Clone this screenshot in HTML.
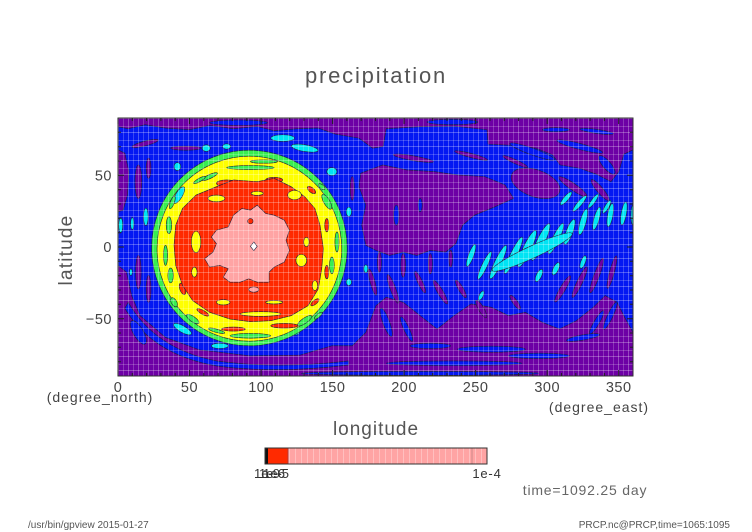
<!DOCTYPE html>
<html><head><meta charset="utf-8"><style>
html,body{margin:0;padding:0;background:#fff;}
svg{display:block}
.pl *{vector-effect:non-scaling-stroke}
text{font-family:"Liberation Sans",sans-serif}
</style></head><body>
<svg width="752" height="532" viewBox="0 0 752 532" xmlns="http://www.w3.org/2000/svg">
<defs>
<pattern id="grid" patternUnits="userSpaceOnUse" x="118" y="118" width="10" height="14">
<rect x="0" y="0" width="1" height="14" fill="#fff" fill-opacity="0.28"/>
<rect x="5" y="0" width="1" height="14" fill="#fff" fill-opacity="0.2"/>
<rect x="0" y="0" width="10" height="1" fill="#fff" fill-opacity="0.28"/>
<rect x="0" y="8" width="10" height="1" fill="#fff" fill-opacity="0.2"/>
</pattern>
<pattern id="cbg" patternUnits="userSpaceOnUse" x="265" y="448" width="6" height="16">
<rect x="0" y="0" width="1" height="16" fill="#fff" fill-opacity="0.3"/>
</pattern>
</defs>
<rect width="752" height="532" fill="#fff"/>

<text x="376" y="83" text-anchor="middle" font-size="22" letter-spacing="1.8" fill="#555">precipitation</text>

<svg class="pl" x="118" y="118" width="515" height="258" viewBox="10 10 1517 770" preserveAspectRatio="none">
<g stroke="#20203a" stroke-width="0.6">
<rect x="10" y="10" width="1517" height="770" fill="#0418f2" stroke="none"/>
<g fill="#6d00a5">
<path d="M10,10 H1527 V105 L1500,118 L1485,170 L1462,200 L1420,178 L1370,160 L1312,150 L1290,120 L1240,100 L1180,92 L1100,88 L1097,45 L1000,34 L900,36 L800,42 L791,95 L760,100 L720,70 L650,58 L600,40 L540,42 L470,48 L420,35 L350,42 L280,32 L220,45 L150,40 L90,30 L40,42 L10,36 Z"/>
<ellipse cx="90" cy="86" rx="40" ry="7" transform="rotate(-15 90 86)"/>
<ellipse cx="210" cy="100" rx="45" ry="6"/>
<ellipse cx="880" cy="130" rx="60" ry="7" transform="rotate(10 880 130)"/>
<ellipse cx="1050" cy="122" rx="50" ry="6" transform="rotate(15 1050 122)"/>
<ellipse cx="1180" cy="140" rx="40" ry="6" transform="rotate(25 1180 140)"/>
<ellipse cx="1240" cy="205" rx="75" ry="40" transform="rotate(20 1240 205)"/>
<path d="M725,175 L790,150 L860,165 L940,170 L1010,180 L1090,185 L1150,210 L1175,250 L1120,275 L1060,300 L1025,330 L1005,385 L975,410 L930,405 L890,420 L850,410 L810,420 L770,405 L740,390 L728,330 L740,270 L720,215 Z"/>
<path d="M10,105 L30,115 L42,170 L38,240 L25,285 L10,290 Z"/>
<path d="M10,450 L35,470 L50,540 L75,600 L150,665 L250,702 L400,720 L545,718 L640,690 L700,690 L740,650 L770,570 L800,545 L850,560 L900,600 L950,640 L1000,600 L1050,565 L1110,575 L1160,600 L1210,590 L1260,620 L1310,640 L1360,615 L1410,575 L1445,540 L1480,560 L1505,610 L1527,650 V780 H10 Z"/>
<ellipse cx="780" cy="440" rx="6" ry="30"/>
<ellipse cx="850" cy="450" rx="7" ry="35"/>
<ellipse cx="930" cy="445" rx="6" ry="30"/>
<ellipse cx="990" cy="430" rx="5" ry="25"/>
<ellipse cx="760" cy="500" rx="7" ry="40" transform="rotate(-15 760 500)"/>
<ellipse cx="820" cy="520" rx="8" ry="45" transform="rotate(-20 820 520)"/>
<ellipse cx="900" cy="500" rx="7" ry="35" transform="rotate(-25 900 500)"/>
<ellipse cx="960" cy="530" rx="8" ry="40" transform="rotate(-30 960 530)"/>
<ellipse cx="1020" cy="520" rx="7" ry="30" transform="rotate(-30 1020 520)"/>
<ellipse cx="1080" cy="580" rx="8" ry="30" transform="rotate(-30 1080 580)"/>
<ellipse cx="1180" cy="560" rx="7" ry="25" transform="rotate(-35 1180 560)"/>
<ellipse cx="1320" cy="520" rx="8" ry="45" transform="rotate(30 1320 520)"/>
<ellipse cx="1370" cy="500" rx="8" ry="50" transform="rotate(25 1370 500)"/>
<ellipse cx="1420" cy="480" rx="8" ry="55" transform="rotate(20 1420 480)"/>
<ellipse cx="1465" cy="470" rx="7" ry="50" transform="rotate(15 1465 470)"/>
<ellipse cx="1350" cy="215" rx="50" ry="10" transform="rotate(35 1350 215)"/>
<ellipse cx="1430" cy="225" rx="40" ry="9" transform="rotate(50 1430 225)"/>
<ellipse cx="70" cy="200" rx="10" ry="50"/>
<ellipse cx="100" cy="160" rx="7" ry="30"/>
<ellipse cx="70" cy="470" rx="8" ry="50"/>
<ellipse cx="100" cy="520" rx="7" ry="40"/>
<ellipse cx="700" cy="220" rx="6" ry="35"/>
</g>
<g fill="#0418f2">
<ellipse cx="995" cy="22" rx="75" ry="8"/>
<ellipse cx="365" cy="24" rx="85" ry="8"/>
<ellipse cx="1230" cy="110" rx="70" ry="10" transform="rotate(20 1230 110)"/>
<ellipse cx="1370" cy="95" rx="70" ry="9" transform="rotate(15 1370 95)"/>
<ellipse cx="1450" cy="150" rx="35" ry="12" transform="rotate(50 1450 150)"/>
<ellipse cx="1300" cy="45" rx="40" ry="6"/>
<ellipse cx="1420" cy="50" rx="50" ry="6" transform="rotate(8 1420 50)"/>
<ellipse cx="830" cy="300" rx="8" ry="30"/>
<ellipse cx="900" cy="270" rx="6" ry="20"/>
<path d="M40,560 Q120,700 300,735 Q480,760 690,735 L690,747 Q480,774 300,750 Q110,716 30,578 Z"/>
<ellipse cx="800" cy="620" rx="10" ry="45" transform="rotate(-20 800 620)"/>
<ellipse cx="860" cy="640" rx="8" ry="40" transform="rotate(-25 860 640)"/>
<ellipse cx="1110" cy="700" rx="100" ry="9"/>
<ellipse cx="930" cy="690" rx="60" ry="8"/>
<ellipse cx="1250" cy="720" rx="90" ry="8"/>
<ellipse cx="1000" cy="742" rx="200" ry="7"/>
<ellipse cx="1420" cy="620" rx="8" ry="40" transform="rotate(30 1420 620)"/>
<ellipse cx="1460" cy="600" rx="8" ry="45" transform="rotate(25 1460 600)"/>
<ellipse cx="1380" cy="665" rx="50" ry="8" transform="rotate(-10 1380 665)"/>
<ellipse cx="900" cy="772" rx="350" ry="6"/>
<ellipse cx="70" cy="650" rx="15" ry="40" transform="rotate(-30 70 650)"/>
</g>
<g fill="#00e4f4">
<ellipse cx="1050" cy="420" rx="8" ry="35" transform="rotate(20 1050 420)"/>
<ellipse cx="1090" cy="450" rx="8" ry="45" transform="rotate(25 1090 450)"/>
<ellipse cx="1130" cy="440" rx="10" ry="55" transform="rotate(25 1130 440)"/>
<ellipse cx="1175" cy="420" rx="10" ry="60" transform="rotate(25 1175 420)"/>
<ellipse cx="1215" cy="400" rx="12" ry="60" transform="rotate(25 1215 400)"/>
<ellipse cx="1255" cy="380" rx="12" ry="60" transform="rotate(25 1255 380)"/>
<ellipse cx="1300" cy="370" rx="10" ry="50" transform="rotate(25 1300 370)"/>
<ellipse cx="1340" cy="350" rx="10" ry="40" transform="rotate(20 1340 350)"/>
<ellipse cx="1380" cy="320" rx="9" ry="40" transform="rotate(15 1380 320)"/>
<ellipse cx="1420" cy="310" rx="8" ry="35" transform="rotate(15 1420 310)"/>
<ellipse cx="1460" cy="300" rx="8" ry="35" transform="rotate(10 1460 300)"/>
<ellipse cx="1500" cy="295" rx="8" ry="35" transform="rotate(10 1500 295)"/>
<ellipse cx="1527" cy="300" rx="6" ry="30"/>
<ellipse cx="1330" cy="250" rx="7" ry="25" transform="rotate(40 1330 250)"/>
<ellipse cx="1370" cy="265" rx="7" ry="30" transform="rotate(40 1370 265)"/>
<ellipse cx="1410" cy="258" rx="6" ry="25" transform="rotate(35 1410 258)"/>
<ellipse cx="1450" cy="275" rx="6" ry="22" transform="rotate(30 1450 275)"/>
<ellipse cx="1080" cy="540" rx="6" ry="15" transform="rotate(25 1080 540)"/>
<ellipse cx="1250" cy="480" rx="8" ry="20" transform="rotate(25 1250 480)"/>
<ellipse cx="1300" cy="460" rx="8" ry="20" transform="rotate(25 1300 460)"/>
<ellipse cx="1380" cy="440" rx="7" ry="20" transform="rotate(20 1380 440)"/>
<ellipse cx="1230" cy="410" rx="130" ry="18" transform="rotate(-25 1230 410)"/>
<ellipse cx="18" cy="330" rx="6" ry="22"/>
<ellipse cx="52" cy="325" rx="5" ry="18"/>
<ellipse cx="92" cy="305" rx="7" ry="26"/>
<ellipse cx="48" cy="470" rx="4" ry="10"/>
<ellipse cx="185" cy="155" rx="10" ry="12"/>
<ellipse cx="270" cy="100" rx="12" ry="10"/>
<ellipse cx="330" cy="95" rx="12" ry="8"/>
<ellipse cx="495" cy="70" rx="35" ry="10"/>
<ellipse cx="560" cy="100" rx="40" ry="10" transform="rotate(10 560 100)"/>
<ellipse cx="640" cy="170" rx="15" ry="12"/>
<ellipse cx="690" cy="290" rx="8" ry="14"/>
<ellipse cx="690" cy="500" rx="8" ry="10"/>
<ellipse cx="200" cy="640" rx="30" ry="10" transform="rotate(30 200 640)"/>
<ellipse cx="310" cy="690" rx="25" ry="8"/>
<ellipse cx="530" cy="650" rx="15" ry="8"/>
<ellipse cx="150" cy="520" rx="8" ry="20"/>
<ellipse cx="740" cy="460" rx="6" ry="12"/>
</g>
<ellipse cx="397" cy="398" rx="288" ry="292" fill="#38ee50"/>
<ellipse cx="397" cy="400" rx="272" ry="276" fill="#ffff00"/>
<g fill="#38ee50">
<ellipse cx="190" cy="240" rx="10" ry="28" transform="rotate(30 190 240)" fill="#00e4f4"/>
<ellipse cx="160" cy="330" rx="8" ry="25"/>
<ellipse cx="165" cy="480" rx="8" ry="22"/>
<ellipse cx="230" cy="610" rx="22" ry="8" transform="rotate(35 230 610)"/>
<ellipse cx="400" cy="660" rx="60" ry="7"/>
<ellipse cx="560" cy="615" rx="25" ry="8" transform="rotate(-35 560 615)"/>
<ellipse cx="640" cy="450" rx="7" ry="25"/>
<ellipse cx="625" cy="260" rx="9" ry="25" transform="rotate(-30 625 260)"/>
<ellipse cx="400" cy="158" rx="70" ry="6"/>
<ellipse cx="280" cy="185" rx="25" ry="6" transform="rotate(-25 280 185)"/>
<ellipse cx="250" cy="195" rx="20" ry="5" transform="rotate(-30 250 195)"/>
<ellipse cx="170" cy="262" rx="6" ry="20" transform="rotate(20 170 262)"/>
<ellipse cx="150" cy="420" rx="6" ry="30"/>
<ellipse cx="175" cy="560" rx="8" ry="15" transform="rotate(-30 175 560)"/>
<ellipse cx="300" cy="645" rx="25" ry="5" transform="rotate(15 300 645)"/>
<ellipse cx="600" cy="600" rx="15" ry="5" transform="rotate(-40 600 600)"/>
<ellipse cx="655" cy="380" rx="6" ry="30"/>
<ellipse cx="610" cy="215" rx="12" ry="6" transform="rotate(40 610 215)"/>
<ellipse cx="440" cy="140" rx="40" ry="5"/>
</g>
<g fill="#ff2a00">
<ellipse cx="330" cy="205" rx="30" ry="10"/>
<ellipse cx="470" cy="195" rx="25" ry="8"/>
<ellipse cx="205" cy="300" rx="8" ry="25" transform="rotate(20 205 300)"/>
<ellipse cx="190" cy="420" rx="7" ry="20"/>
<ellipse cx="200" cy="520" rx="8" ry="18" transform="rotate(-20 200 520)"/>
<ellipse cx="260" cy="590" rx="20" ry="6" transform="rotate(30 260 590)"/>
<ellipse cx="350" cy="640" rx="35" ry="6"/>
<ellipse cx="500" cy="630" rx="40" ry="7"/>
<ellipse cx="590" cy="560" rx="15" ry="6" transform="rotate(-40 590 560)"/>
<ellipse cx="625" cy="470" rx="6" ry="20"/>
<ellipse cx="625" cy="330" rx="6" ry="20"/>
<ellipse cx="580" cy="225" rx="15" ry="7" transform="rotate(40 580 225)"/>
</g>
<path fill="#ff2a00" d="M300,215 L350,195 L420,200 L470,190 L520,215 L560,245 L590,280 L605,330 L615,400 L610,460 L600,520 L570,570 L520,600 L460,615 L400,618 L340,610 L280,590 L230,555 L200,510 L180,450 L175,390 L180,330 L200,280 L240,240 Z"/>
<g fill="#ffff00">
<ellipse cx="240" cy="380" rx="14" ry="32"/>
<ellipse cx="235" cy="470" rx="8" ry="15"/>
<ellipse cx="550" cy="435" rx="16" ry="18"/>
<ellipse cx="565" cy="380" rx="8" ry="14"/>
<ellipse cx="530" cy="240" rx="20" ry="14"/>
<ellipse cx="420" cy="235" rx="18" ry="6"/>
<ellipse cx="430" cy="595" rx="60" ry="7"/>
<ellipse cx="470" cy="560" rx="25" ry="5"/>
<ellipse cx="320" cy="560" rx="20" ry="8"/>
<ellipse cx="300" cy="250" rx="25" ry="10"/>
<ellipse cx="590" cy="510" rx="8" ry="15"/>
</g>
<path fill="#ffa4a4" d="M300,345 L335,335 L350,300 L375,280 L400,285 L420,270 L445,295 L470,300 L500,315 L515,345 L505,375 L515,405 L500,440 L470,455 L455,470 L455,500 L420,500 L395,490 L370,500 L340,500 L320,485 L335,460 L310,450 L280,455 L265,430 L290,410 L300,385 L285,365 Z"/>
<ellipse cx="410" cy="522" rx="15" ry="8" fill="#ffa4a4"/>
<ellipse cx="400" cy="318" rx="8" ry="8" fill="#ff2a00"/>
<path d="M410,380 L420,393 L410,406 L400,393 Z" fill="#fff"/>
</g>
</svg>

<rect x="118" y="118" width="515" height="258" fill="url(#grid)"/>
<rect x="118" y="118" width="515" height="258" fill="none" stroke="#333" stroke-width="1"/>

<g stroke="#222" stroke-width="1">
<path d="M118,376v-6M189.5,376v-6M261.1,376v-6M332.6,376v-6M404.1,376v-6M475.6,376v-6M547.2,376v-6M618.7,376v-6M118,118v6M189.5,118v6M261.1,118v6M332.6,118v6M404.1,118v6M475.6,118v6M547.2,118v6M618.7,118v6"/>
<path d="M132.3,376v-3M146.6,376v-3M160.9,376v-3M175.2,376v-3M203.8,376v-3M218.1,376v-3M232.4,376v-3M246.8,376v-3M275.4,376v-3M289.7,376v-3M304,376v-3M318.3,376v-3M346.9,376v-3M361.2,376v-3M375.5,376v-3M389.8,376v-3M418.4,376v-3M432.7,376v-3M447,376v-3M461.3,376v-3M490,376v-3M504.3,376v-3M518.6,376v-3M532.9,376v-3M561.5,376v-3M575.8,376v-3M590.1,376v-3M604.4,376v-3"/>
<path d="M132.3,118v3M146.6,118v3M160.9,118v3M175.2,118v3M203.8,118v3M218.1,118v3M232.4,118v3M246.8,118v3M275.4,118v3M289.7,118v3M304,118v3M318.3,118v3M346.9,118v3M361.2,118v3M375.5,118v3M389.8,118v3M418.4,118v3M432.7,118v3M447,118v3M461.3,118v3M490,118v3M504.3,118v3M518.6,118v3M532.9,118v3M561.5,118v3M575.8,118v3M590.1,118v3M604.4,118v3"/>
<path d="M118,175.3h6M118,247h6M118,318.7h6M633,175.3h-6M633,247h-6M633,318.7h-6"/>
<path d="M118,132.3h3M118,146.7h3M118,161h3M118,189.7h3M118,204h3M118,218.3h3M118,232.7h3M118,261.3h3M118,275.7h3M118,290h3M118,304.3h3M118,333h3M118,347.3h3M118,361.7h3M633,132.3h-3M633,146.7h-3M633,161h-3M633,189.7h-3M633,204h-3M633,218.3h-3M633,232.7h-3M633,261.3h-3M633,275.7h-3M633,290h-3M633,304.3h-3M633,333h-3M633,347.3h-3M633,361.7h-3"/>
</g>

<g font-size="14.5" fill="#444" text-anchor="middle" letter-spacing="0.5">
<text x="118" y="392">0</text>
<text x="189.5" y="392">50</text>
<text x="261.1" y="392">100</text>
<text x="332.6" y="392">150</text>
<text x="404.1" y="392">200</text>
<text x="475.6" y="392">250</text>
<text x="547.2" y="392">300</text>
<text x="618.7" y="392">350</text>
</g>
<g font-size="14.5" fill="#444" text-anchor="end" letter-spacing="0.5">
<text x="112" y="180.5">50</text>
<text x="112" y="252">0</text>
<text x="112" y="324">−50</text>
</g>
<text x="100" y="402" text-anchor="middle" font-size="14" letter-spacing="1" fill="#444">(degree_north)</text>
<text x="599" y="412" text-anchor="middle" font-size="14" letter-spacing="1" fill="#444">(degree_east)</text>
<text x="376" y="435" text-anchor="middle" font-size="19" letter-spacing="1" fill="#555">longitude</text>
<text x="72" y="250" text-anchor="middle" font-size="19" letter-spacing="1.2" fill="#555" transform="rotate(-90 72 250)">latitude</text>

<rect x="265" y="448" width="222" height="16" fill="#ffa4a4"/>
<rect x="265" y="448" width="222" height="16" fill="url(#cbg)"/>
<rect x="268" y="448" width="20" height="16" fill="#ff2a00"/>
<rect x="265" y="448" width="3" height="16" fill="#111"/>
<line x1="288" y1="448" x2="288" y2="464" stroke="#a04040" stroke-width="0.8"/>
<line x1="472" y1="448" x2="472" y2="464" stroke="#c08080" stroke-width="0.8"/>
<rect x="265" y="448" width="222" height="16" fill="none" stroke="#333" stroke-width="1"/>
<g font-size="13" fill="#333" text-anchor="middle">
<text x="267" y="478">1e-9</text>
<text x="272" y="478">1e-6</text>
<text x="276" y="478">1e-5</text>
<text x="487" y="478" letter-spacing="0.8">1e-4</text>
</g>

<text x="585" y="495" text-anchor="middle" font-size="14" letter-spacing="0.8" fill="#666">time=1092.25 day</text>
<text x="28" y="528" font-size="10" fill="#555">/usr/bin/gpview  2015-01-27</text>
<text x="730" y="528" text-anchor="end" font-size="10" fill="#555">PRCP.nc@PRCP,time=1065:1095</text>
</svg>
</body></html>
